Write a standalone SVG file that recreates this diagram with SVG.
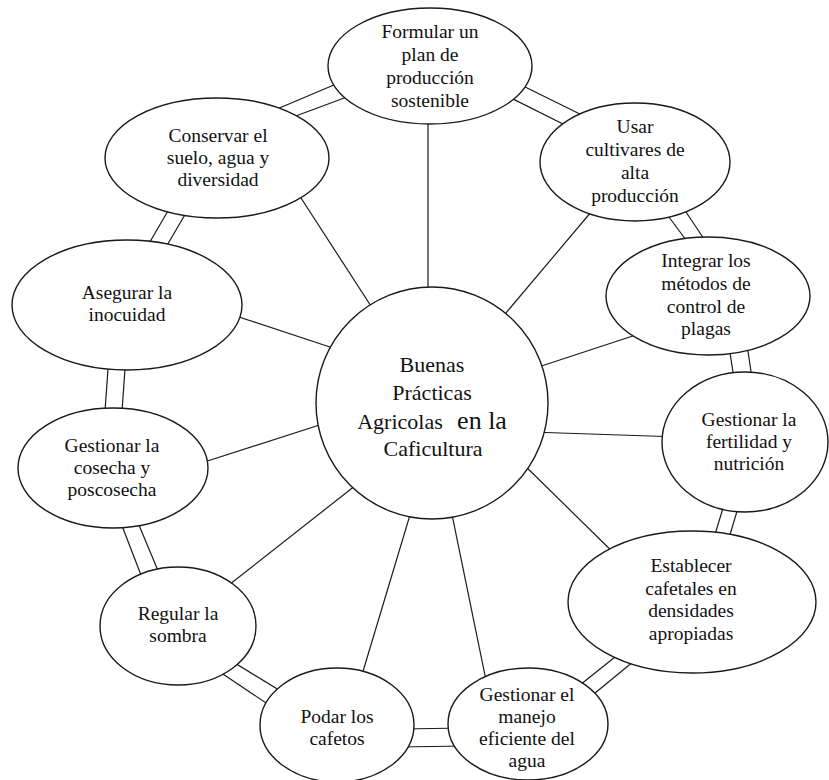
<svg xmlns="http://www.w3.org/2000/svg" width="829" height="780" viewBox="0 0 829 780">
<style>
  .c line { stroke: #1a1a1a; stroke-width: 1.2; fill: none; }
  .n ellipse, .n circle { fill: #ffffff; stroke: #1a1a1a; stroke-width: 1.4; }
  .n text { font-family: "Liberation Serif", "Times New Roman", serif; font-size: 19.5px; fill: #111; text-anchor: middle; }
  .ctr text { font-size: 22px; }
</style>
<rect x="0" y="0" width="829" height="780" fill="#ffffff"/>
<g id="connectors" class="c">
  <!-- spokes -->
  <line x1="428" y1="100" x2="428" y2="300"/>
  <line x1="290" y1="181" x2="380" y2="320"/>
  <line x1="597" y1="205" x2="500" y2="320"/>
  <line x1="645" y1="332" x2="520" y2="373"/>
  <line x1="530" y1="432" x2="680" y2="437"/>
  <line x1="515" y1="456" x2="625" y2="564"/>
  <line x1="449" y1="500" x2="488" y2="690"/>
  <line x1="413" y1="505" x2="361" y2="678"/>
  <line x1="225" y1="588" x2="365" y2="478"/>
  <line x1="195" y1="465" x2="335" y2="420"/>
  <line x1="230" y1="314" x2="345" y2="352"/>
  <!-- ring double lines -->
  <line x1="515" y1="82" x2="590" y2="119"/>
  <line x1="505" y1="95" x2="575" y2="130"/>
  <line x1="660" y1="205" x2="692" y2="248"/>
  <line x1="678" y1="200" x2="710" y2="248"/>
  <line x1="728" y1="340" x2="735" y2="385"/>
  <line x1="746" y1="338" x2="753" y2="385"/>
  <line x1="726" y1="498" x2="711" y2="548"/>
  <line x1="741" y1="498" x2="726" y2="548"/>
  <line x1="625" y1="649" x2="565" y2="697"/>
  <line x1="645" y1="652" x2="578" y2="707"/>
  <line x1="400" y1="729" x2="465" y2="728"/>
  <line x1="398" y1="747" x2="465" y2="746"/>
  <line x1="225" y1="657" x2="292" y2="698"/>
  <line x1="208" y1="664" x2="281" y2="713"/>
  <line x1="119" y1="518" x2="146" y2="588"/>
  <line x1="136" y1="518" x2="164" y2="585"/>
  <line x1="109" y1="355" x2="104" y2="425"/>
  <line x1="126" y1="355" x2="121" y2="425"/>
  <line x1="172" y1="204" x2="144" y2="252"/>
  <line x1="190" y1="206" x2="162" y2="254"/>
  <line x1="270" y1="112" x2="348" y2="79"/>
  <line x1="285" y1="120" x2="355" y2="94"/>
</g>
<g id="center" class="n ctr">
  <circle cx="432" cy="403" r="116"/>
  <text x="432" y="372">Buenas</text>
  <text x="432" y="400">Prácticas</text>
  <text y="429"><tspan x="400">Agricolas</tspan><tspan x="482" font-size="26px">en la</tspan></text>
  <text x="433" y="456">Caficultura</text>
</g>
<g id="formular" class="n">
  <ellipse cx="430" cy="66" rx="102" ry="58"/>
  <text x="430" y="38">Formular un</text>
  <text x="430" y="61">plan de</text>
  <text x="430" y="84">producción</text>
  <text x="430" y="107">sostenible</text>
</g>
<g id="usar" class="n">
  <ellipse cx="635" cy="162" rx="95" ry="59"/>
  <text x="635" y="133">Usar</text>
  <text x="635" y="156">cultivares de</text>
  <text x="635" y="179">alta</text>
  <text x="635" y="202">producción</text>
</g>
<g id="integrar" class="n">
  <ellipse cx="708" cy="296" rx="102" ry="59"/>
  <text x="706" y="267">Integrar los</text>
  <text x="706" y="290">métodos de</text>
  <text x="706" y="313">control de</text>
  <text x="706" y="335">plagas</text>
</g>
<g id="fertilidad" class="n">
  <ellipse cx="745" cy="442" rx="83" ry="70"/>
  <text x="749" y="426">Gestionar la</text>
  <text x="749" y="448">fertilidad y</text>
  <text x="749" y="470">nutrición</text>
</g>
<g id="establecer" class="n">
  <ellipse cx="692" cy="602" rx="124" ry="71"/>
  <text x="691" y="572">Establecer</text>
  <text x="691" y="595">cafetales en</text>
  <text x="691" y="617">densidades</text>
  <text x="691" y="640">apropiadas</text>
</g>
<g id="agua" class="n">
  <ellipse cx="528" cy="724" rx="80" ry="56"/>
  <text x="527" y="701">Gestionar el</text>
  <text x="527" y="723">manejo</text>
  <text x="527" y="745">eficiente del</text>
  <text x="527" y="767">agua</text>
</g>
<g id="podar" class="n">
  <ellipse cx="337" cy="725" rx="77" ry="57"/>
  <text x="337" y="723">Podar los</text>
  <text x="337" y="745">cafetos</text>
</g>
<g id="regular" class="n">
  <ellipse cx="178" cy="626" rx="78" ry="59"/>
  <text x="178" y="620">Regular la</text>
  <text x="178" y="642">sombra</text>
</g>
<g id="cosecha" class="n">
  <ellipse cx="113" cy="468" rx="95" ry="60"/>
  <text x="112" y="452">Gestionar la</text>
  <text x="112" y="474">cosecha y</text>
  <text x="112" y="496">poscosecha</text>
</g>
<g id="asegurar" class="n">
  <ellipse cx="127" cy="305" rx="115" ry="65"/>
  <text x="127" y="299">Asegurar la</text>
  <text x="127" y="321">inocuidad</text>
</g>
<g id="conservar" class="n">
  <ellipse cx="217" cy="158" rx="112" ry="60"/>
  <text x="218" y="142">Conservar el</text>
  <text x="218" y="164">suelo, agua y</text>
  <text x="218" y="186">diversidad</text>
</g>
</svg>
